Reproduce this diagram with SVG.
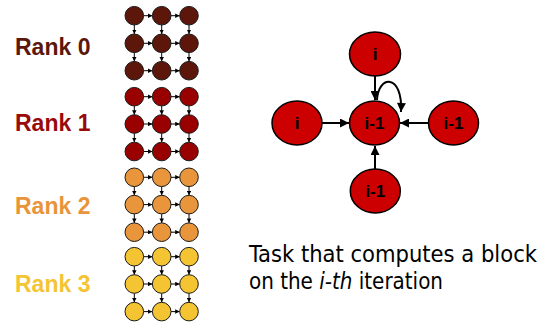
<svg xmlns="http://www.w3.org/2000/svg" width="551" height="324" viewBox="0 0 551 324">
<style>
.rank{font-family:"Liberation Sans",Arial,sans-serif;font-weight:bold;font-size:23px}
.c0{fill:#5c160a;stroke:#1a1a1a;stroke-width:1}
.c1{fill:#990000;stroke:#1a1a1a;stroke-width:1}
.c2{fill:#e8953c;stroke:#1a1a1a;stroke-width:1}
.c3{fill:#f4c433;stroke:#1a1a1a;stroke-width:1}
.g{stroke:#000;stroke-width:1;marker-end:url(#sa)}
.node ellipse{fill:#cc0000;stroke:#000;stroke-width:1.5}
.node text{font-family:"Liberation Sans",Arial,sans-serif;font-weight:bold;font-size:17px;fill:#000;text-anchor:middle}
.big{stroke:#000;stroke-width:2;fill:none;marker-end:url(#ba)}
.cap{font-family:"DejaVu Sans Condensed","DejaVu Sans",sans-serif;font-size:23px;fill:#000}
</style>
<defs>
<marker id="sa" viewBox="0 0 10 10" refX="10" refY="5" markerWidth="4.5" markerHeight="4.5" markerUnits="userSpaceOnUse" orient="auto"><path d="M0,0 L10,5 L0,10 z" fill="#000"/></marker>
<marker id="ba" viewBox="0 0 10 10" refX="10" refY="5" markerWidth="10" markerHeight="9" markerUnits="userSpaceOnUse" orient="auto"><path d="M0,0 L10,5 L0,10 z" fill="#000"/></marker>
</defs>

<g id="labels">
<text class="rank" x="15" y="55" fill="#5c160a">Rank 0</text>
<text class="rank" x="15" y="131" fill="#990a0a">Rank 1</text>
<text class="rank" x="15" y="214" fill="#e9943a">Rank 2</text>
<text class="rank" x="15" y="291.5" fill="#f4c433">Rank 3</text>
</g>

<g id="connectors">
<line class="g" x1="143.6" y1="15.7" x2="152.4" y2="15.7"/><line class="g" x1="171" y1="15.7" x2="179.7" y2="15.7"/>
<line class="g" x1="143.6" y1="43.3" x2="152.4" y2="43.3"/><line class="g" x1="171" y1="43.3" x2="179.7" y2="43.3"/>
<line class="g" x1="143.6" y1="70.7" x2="152.4" y2="70.7"/><line class="g" x1="171" y1="70.7" x2="179.7" y2="70.7"/>
<line class="g" x1="134.3" y1="25" x2="134.3" y2="34"/><line class="g" x1="161.7" y1="25" x2="161.7" y2="34"/><line class="g" x1="189" y1="25" x2="189" y2="34"/>
<line class="g" x1="134.3" y1="52.6" x2="134.3" y2="61.4"/><line class="g" x1="161.7" y1="52.6" x2="161.7" y2="61.4"/><line class="g" x1="189" y1="52.6" x2="189" y2="61.4"/>
<line class="g" x1="143.6" y1="96.7" x2="152.4" y2="96.7"/><line class="g" x1="171" y1="96.7" x2="179.7" y2="96.7"/>
<line class="g" x1="143.6" y1="124" x2="152.4" y2="124"/><line class="g" x1="171" y1="124" x2="179.7" y2="124"/>
<line class="g" x1="143.6" y1="151.5" x2="152.4" y2="151.5"/><line class="g" x1="171" y1="151.5" x2="179.7" y2="151.5"/>
<line class="g" x1="134.3" y1="106" x2="134.3" y2="114.7"/><line class="g" x1="161.7" y1="106" x2="161.7" y2="114.7"/><line class="g" x1="189" y1="106" x2="189" y2="114.7"/>
<line class="g" x1="134.3" y1="133.3" x2="134.3" y2="142.2"/><line class="g" x1="161.7" y1="133.3" x2="161.7" y2="142.2"/><line class="g" x1="189" y1="133.3" x2="189" y2="142.2"/>
<line class="g" x1="143.6" y1="177.3" x2="152.4" y2="177.3"/><line class="g" x1="171" y1="177.3" x2="179.7" y2="177.3"/>
<line class="g" x1="143.6" y1="204.6" x2="152.4" y2="204.6"/><line class="g" x1="171" y1="204.6" x2="179.7" y2="204.6"/>
<line class="g" x1="143.6" y1="232.2" x2="152.4" y2="232.2"/><line class="g" x1="171" y1="232.2" x2="179.7" y2="232.2"/>
<line class="g" x1="134.3" y1="186.6" x2="134.3" y2="195.3"/><line class="g" x1="161.7" y1="186.6" x2="161.7" y2="195.3"/><line class="g" x1="189" y1="186.6" x2="189" y2="195.3"/>
<line class="g" x1="134.3" y1="213.9" x2="134.3" y2="222.9"/><line class="g" x1="161.7" y1="213.9" x2="161.7" y2="222.9"/><line class="g" x1="189" y1="213.9" x2="189" y2="222.9"/>
<line class="g" x1="143.6" y1="256.7" x2="152.4" y2="256.7"/><line class="g" x1="171" y1="256.7" x2="179.7" y2="256.7"/>
<line class="g" x1="143.6" y1="284" x2="152.4" y2="284"/><line class="g" x1="171" y1="284" x2="179.7" y2="284"/>
<line class="g" x1="143.6" y1="311.6" x2="152.4" y2="311.6"/><line class="g" x1="171" y1="311.6" x2="179.7" y2="311.6"/>
<line class="g" x1="134.3" y1="266" x2="134.3" y2="274.7"/><line class="g" x1="161.7" y1="266" x2="161.7" y2="274.7"/><line class="g" x1="189" y1="266" x2="189" y2="274.7"/>
<line class="g" x1="134.3" y1="293.3" x2="134.3" y2="302.3"/><line class="g" x1="161.7" y1="293.3" x2="161.7" y2="302.3"/><line class="g" x1="189" y1="293.3" x2="189" y2="302.3"/>
<line class="big" x1="375" y1="76" x2="375" y2="100"/>
<path class="big" d="M377,100 C378,75 403,73 401,112"/>
<line class="big" x1="322" y1="123" x2="349" y2="123"/>
<line class="big" x1="428.5" y1="123" x2="400" y2="123"/>
<line class="big" x1="375" y1="169" x2="375" y2="146"/>
</g>

<g id="grid-rank0">
<circle class="c0" cx="134.3" cy="15.7" r="9.3"/><circle class="c0" cx="161.7" cy="15.7" r="9.3"/><circle class="c0" cx="189" cy="15.7" r="9.3"/>
<circle class="c0" cx="134.3" cy="43.3" r="9.3"/><circle class="c0" cx="161.7" cy="43.3" r="9.3"/><circle class="c0" cx="189" cy="43.3" r="9.3"/>
<circle class="c0" cx="134.3" cy="70.7" r="9.3"/><circle class="c0" cx="161.7" cy="70.7" r="9.3"/><circle class="c0" cx="189" cy="70.7" r="9.3"/>
</g>
<g id="grid-rank1">
<circle class="c1" cx="134.3" cy="96.7" r="9.3"/><circle class="c1" cx="161.7" cy="96.7" r="9.3"/><circle class="c1" cx="189" cy="96.7" r="9.3"/>
<circle class="c1" cx="134.3" cy="124" r="9.3"/><circle class="c1" cx="161.7" cy="124" r="9.3"/><circle class="c1" cx="189" cy="124" r="9.3"/>
<circle class="c1" cx="134.3" cy="151.5" r="9.3"/><circle class="c1" cx="161.7" cy="151.5" r="9.3"/><circle class="c1" cx="189" cy="151.5" r="9.3"/>
</g>
<g id="grid-rank2">
<circle class="c2" cx="134.3" cy="177.3" r="9.3"/><circle class="c2" cx="161.7" cy="177.3" r="9.3"/><circle class="c2" cx="189" cy="177.3" r="9.3"/>
<circle class="c2" cx="134.3" cy="204.6" r="9.3"/><circle class="c2" cx="161.7" cy="204.6" r="9.3"/><circle class="c2" cx="189" cy="204.6" r="9.3"/>
<circle class="c2" cx="134.3" cy="232.2" r="9.3"/><circle class="c2" cx="161.7" cy="232.2" r="9.3"/><circle class="c2" cx="189" cy="232.2" r="9.3"/>
</g>
<g id="grid-rank3">
<circle class="c3" cx="134.3" cy="256.7" r="9.3"/><circle class="c3" cx="161.7" cy="256.7" r="9.3"/><circle class="c3" cx="189" cy="256.7" r="9.3"/>
<circle class="c3" cx="134.3" cy="284" r="9.3"/><circle class="c3" cx="161.7" cy="284" r="9.3"/><circle class="c3" cx="189" cy="284" r="9.3"/>
<circle class="c3" cx="134.3" cy="311.6" r="9.3"/><circle class="c3" cx="161.7" cy="311.6" r="9.3"/><circle class="c3" cx="189" cy="311.6" r="9.3"/>
</g>

<g id="node-top" class="node"><ellipse cx="375" cy="54" rx="25.5" ry="22"/><text x="375" y="60">i</text></g>
<g id="node-left" class="node"><ellipse cx="297" cy="123" rx="25" ry="22"/><text x="297" y="129">i</text></g>
<g id="node-center" class="node"><ellipse cx="374.5" cy="123" rx="25" ry="22"/><text x="374.5" y="129">i-1</text></g>
<g id="node-right" class="node"><ellipse cx="453.5" cy="123" rx="25" ry="22"/><text x="453.5" y="129">i-1</text></g>
<g id="node-bottom" class="node"><ellipse cx="375.3" cy="191" rx="25" ry="22"/><text x="375.3" y="197">i-1</text></g>

<g id="caption">
<text class="cap" x="249" y="261.5" textLength="288" lengthAdjust="spacingAndGlyphs">Task that computes a block</text>
<text class="cap" x="249" y="289" textLength="194" lengthAdjust="spacingAndGlyphs">on the <tspan font-style="italic">i-th</tspan> iteration</text>
</g>
</svg>
